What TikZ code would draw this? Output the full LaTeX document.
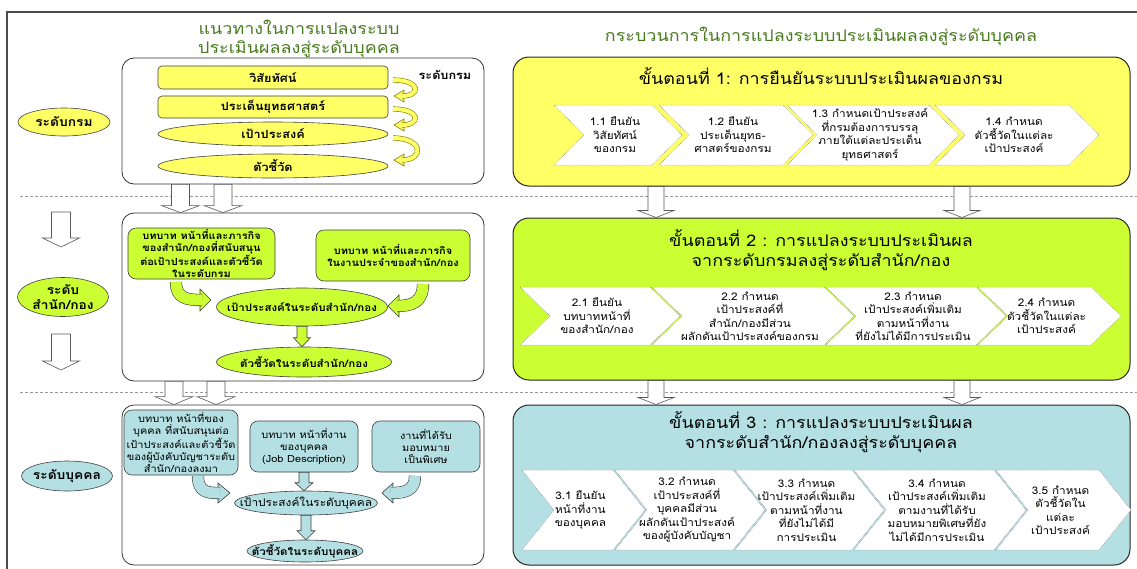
\documentclass[tikz,border=0pt]{standalone}
\usepackage{fontspec}
\setmainfont{Loma}[Script=Thai, FakeStretch=1.12]
\usetikzlibrary{shapes.geometric, calc}

\definecolor{kyellow}{RGB}{255,255,102}
\definecolor{kgreen}{RGB}{204,255,51}
\definecolor{kblue}{RGB}{180,223,227}
\definecolor{ktitle}{RGB}{72,122,30}
\definecolor{kolive}{RGB}{128,128,0}

% block arrow pointing down: style, from, to, half shaft, half head, head length
\newcommand{\blockdown}[6]{%
  \path[#1] let \p1=#2, \p2=#3 in
    (\x1-#4pt,\y1) -- (\x1+#4pt,\y1) -- (\x1+#4pt,\y2+#6pt)
    -- (\x1+#5pt,\y2+#6pt) -- (\x1,\y2) -- (\x1-#5pt,\y2+#6pt)
    -- (\x1-#4pt,\y2+#6pt) -- cycle;}

% bent band arrow: fill, border, band width, band path, head corners
\newcommand{\bentarrow}[5]{%
  \filldraw[fill=#1, draw=#2, line width=0.6pt] #5 -- cycle;
  \draw[draw=#2, double=#1, double distance=#3, line width=0.6pt] #4;}

% chevron of a step: name, left, right, top, bottom, depth, text
\newcommand{\chevbox}[7]{%
  \draw[chevline] (#2,#4) -- (#3,#4) -- ({#3+#6},{(#4+#5)/2}) -- (#3,#5)
    -- (#2,#5) -- ({#2+#6},{(#4+#5)/2}) -- cycle;
  \node[chevtext] (#1) at ({(#2+#3+#6)/2-3},{(#4+#5)/2}) {#7};}

\begin{document}
\begin{tikzpicture}[x=1pt, y=-1pt,
    panel/.style={draw=black!80, fill=white, line width=0.8pt, rounded corners=12pt,
      minimum width=362pt, inner sep=0pt},
    stepbox/.style={draw=black!85, line width=1pt, rounded corners=16pt,
      minimum width=617pt, inner sep=0pt},
    itembox/.style={draw=black!75, line width=0.6pt, rounded corners=#1,
      align=center, inner sep=1pt},
    itembox/.default=4pt,
    ellnode/.style={ellipse, draw=black!75, line width=0.6pt, inner xsep=-30pt,
      inner ysep=-3pt, align=center},
    boldtext/.style={font=\bfseries\fontsize{11.3}{13}\selectfont},
    smalltext/.style={font=\bfseries\fontsize{9.8}{12.3}\selectfont},
    plaintext/.style={font=\fontsize{9.8}{12.2}\selectfont},
    lvtext/.style={font=\bfseries\fontsize{12.3}{15}\selectfont},
    titletext/.style={font=\fontsize{16}{19}\selectfont, text=ktitle, align=center},
    steptitle/.style={font=\fontsize{16}{19.5}\selectfont, align=center},
    chevline/.style={draw=gray, densely dotted, fill=white, line width=0.5pt},
    chevtext/.style={font=\fontsize{10.5}{13.5}\selectfont, align=center, inner sep=0pt},
    bigarrow/.style={fill=white, draw=black!65, line width=0.6pt},
    smallarrow/.style={draw=black!75, line width=0.6pt},
    sepline/.style={densely dashed, draw=gray!80, line width=0.8pt}
]
\useasboundingbox (0,0) rectangle (1137,568);

% frame and level separators
\draw[black!70, line width=1.5pt] (1145,12) -- (7,12) -- (7,575);
\draw[sepline] (20,196) -- (1137,196);
\draw[sepline] (20,392) -- (1137,392);

% titles
\node[titletext] (lefttitle) at (299,39) {แนวทางในการแปลงระบบ\\ประเมินผลลงสู่ระดับบุคคล};
\node[titletext] (righttitle) at (821,36) {กระบวนการในการแปลงระบบประเมินผลลงสู่ระดับบุคคล};

% levels on the left
\node[ellnode, fill=kyellow, minimum width=92pt, minimum height=28pt, lvtext] (dept) at (64,122) {ระดับกรม};
\node[ellnode, fill=kgreen, minimum width=91pt, minimum height=39pt, lvtext] (div) at (63,297) {ระดับ\\สำนัก/กอง};
\node[ellnode, fill=kblue, minimum width=91pt, minimum height=30pt, lvtext] (indiv) at (67,476) {ระดับบุคคล};
\coordinate (da1) at (61,212);
\coordinate (da2) at (61,247);
\coordinate (db1) at (61,334);
\coordinate (db2) at (61,370);
\blockdown{bigarrow}{(da1)}{(da2)}{9.5}{18.5}{9}
\blockdown{bigarrow}{(db1)}{(db2)}{9.5}{18.5}{9}

% level of the department
\node[panel, minimum height=126pt] (lv1) at (303,121) {};
\node[itembox, fill=kyellow, minimum width=230pt, minimum height=23pt, boldtext] (vision) at (273,77.5) {วิสัยทัศน์};
\node[itembox, fill=kyellow, minimum width=230pt, minimum height=22pt, boldtext] (issue) at (273,107) {ประเด็นยุทธศาสตร์};
\node[ellnode, fill=kyellow, minimum width=230pt, minimum height=24pt, boldtext] (goal1) at (273,134) {เป้าประสงค์};
\node[ellnode, fill=kyellow, minimum width=230pt, minimum height=24pt, boldtext] (kpi1) at (273,166) {ตัวชี้วัด};
\node[boldtext] (lvname) at (445,75) {ระดับกรม};
\bentarrow{kyellow}{kolive}{4pt}{(393,80) .. controls (421,80) and (421,96) .. (402,96)}{(404,90) -- (394,96) -- (404,102)}
\bentarrow{kyellow}{kolive}{4pt}{(393,109) .. controls (421,109) and (421,125) .. (402,125)}{(404,119) -- (394,125) -- (404,131)}
\bentarrow{kyellow}{kolive}{4pt}{(393,138) .. controls (424,138) and (424,160) .. (402,160)}{(404,154) -- (394,160) -- (404,166)}

% level of the division
\node[panel, minimum height=168pt] (lv2) at (303,297) {};
\node[itembox=8pt, fill=kgreen, minimum width=147pt, minimum height=51pt, smalltext] (roleA) at (201.5,253.5) {บทบาท หน้าที่และภารกิจ\\ของสำนัก/กองที่สนับสนุน\\ต่อเป้าประสงค์และตัวชี้วัด\\ในระดับกรม};
\node[itembox=8pt, fill=kgreen, minimum width=154pt, minimum height=51pt, smalltext] (roleB) at (393,255.5) {บทบาท หน้าที่และภารกิจ\\ในงานประจำของสำนัก/กอง};
\node[ellnode, fill=kgreen, minimum width=171pt, minimum height=38pt, font=\bfseries\fontsize{10.3}{12}\selectfont] (goal2) at (302,307) {เป้าประสงค์ในระดับสำนัก/กอง};
\node[ellnode, fill=kgreen, minimum width=175pt, minimum height=30pt, font=\bfseries\fontsize{10.3}{12}\selectfont] (kpi2) at (304,362) {ตัวชี้วัดในระดับสำนัก/กอง};
\blockdown{smallarrow, fill=kgreen}{(goal2.south)}{(kpi2.north)}{5}{8.5}{9}
\bentarrow{kgreen}{black!75}{11pt}{(176,282) .. controls (176,298) and (186,300) .. (202,300)}{(200,289) -- (211,300) -- (200,311)}
\bentarrow{kgreen}{black!75}{11pt}{(423,284) .. controls (423,302) and (412,306) .. (397,306)}{(399,295) -- (388,306) -- (399,317)}

% level of the person
\node[panel, minimum height=160pt] (lv3) at (303,485) {};
\node[itembox=8pt, fill=kblue, minimum width=114pt, minimum height=65pt, plaintext] (roleC) at (181,442.5) {บทบาท หน้าที่ของ\\บุคคล ที่สนับสนุนต่อ\\เป้าประสงค์และตัวชี้วัด\\ของผู้บังคับบัญชาระดับ\\สำนัก/กองลงมา};
\node[itembox=8pt, fill=kblue, minimum width=108pt, minimum height=51pt, plaintext] (roleD) at (304,446.5) {บทบาท หน้าที่งาน\\ของบุคคล\\(Job Description)};
\node[itembox=8pt, fill=kblue, minimum width=108pt, minimum height=51pt, plaintext] (roleE) at (426,446.5) {งานที่ได้รับ\\มอบหมาย\\เป็นพิเศษ};
\node[ellnode, fill=kblue, minimum width=143pt, minimum height=24pt, font=\fontsize{10.6}{12}\selectfont] (goal3) at (306,503) {เป้าประสงค์ในระดับบุคคล};
\node[ellnode, fill=kblue, minimum width=116pt, minimum height=22pt, font=\bfseries\fontsize{10.3}{12}\selectfont] (kpi3) at (305,551) {ตัวชี้วัดในระดับบุคคล};
\blockdown{smallarrow, fill=kblue}{(roleD.south)}{(goal3.north)}{5}{9}{8}
\blockdown{smallarrow, fill=kblue}{(goal3.south)}{(kpi3.north)}{5}{9}{9}
\bentarrow{kblue}{black!75}{11pt}{(198,476) .. controls (198,492) and (207,493) .. (220,493)}{(218,483) -- (230,493) -- (218,503)}
\bentarrow{kblue}{black!75}{11pt}{(415,476) .. controls (415,490) and (406,493) .. (391,493)}{(393,483) -- (382,493) -- (393,503)}

% arrows between the left panels
\blockdown{bigarrow}{(180.5,0 |- lv1.south)}{(180.5,0 |- lv2.north)}{9}{19}{7}
\blockdown{bigarrow}{(223,0 |- lv1.south)}{(223,0 |- lv2.north)}{9}{19}{7}
\blockdown{bigarrow}{(174,0 |- lv2.south)}{(174,0 |- lv3.north)}{9}{19}{8}
\blockdown{bigarrow}{(216,0 |- lv2.south)}{(216,0 |- lv3.north)}{9}{19}{8}

% step 1
\node[stepbox, fill=kyellow, minimum height=129pt] (st1) at (821.5,121.5) {};
\node[steptitle] (st1t) at (821,76) {ขั้นตอนที่ 1: การยืนยันระบบประเมินผลของกรม};
\chevbox{c11}{554}{652}{105}{165}{30}{1.1 ยืนยัน\\วิสัยทัศน์\\ของกรม}
\chevbox{c12}{659}{783}{105}{165}{30}{1.2 ยืนยัน\\ประเด็นยุทธ-\\ศาสตร์ของกรม}
\chevbox{c13}{787}{929}{105}{165}{30}{1.3 กำหนดเป้าประสงค์\\ที่กรมต้องการบรรลุ\\ภายใต้แต่ละประเด็น\\ยุทธศาสตร์}
\chevbox{c14}{935}{1069}{105}{165}{30}{1.4 กำหนด\\ตัวชี้วัดในแต่ละ\\เป้าประสงค์}

% step 2
\node[stepbox, fill=kgreen, minimum height=162pt] (st2) at (821.5,299) {};
\node[steptitle] (st2t) at (821,250) {ขั้นตอนที่ 2 : การแปลงระบบประเมินผล\\จากระดับกรมลงสู่ระดับสำนัก/กอง};
\chevbox{c21}{520}{650}{287}{345}{30}{2.1 ยืนยัน\\บทบาทหน้าที่\\ของสำนัก/กอง}
\chevbox{c22}{652}{824}{287}{345}{30}{2.2 กำหนด\\เป้าประสงค์ที่\\สำนัก/กองมีส่วน\\ผลักดันเป้าประสงค์ของกรม}
\chevbox{c23}{826}{976}{287}{345}{30}{2.3 กำหนด\\เป้าประสงค์เพิ่มเติม\\ตามหน้าที่งาน\\ที่ยังไม่ได้มีการประเมิน}
\chevbox{c24}{978}{1091}{287}{345}{30}{2.4 กำหนด\\ตัวชี้วัดในแต่ละ\\เป้าประสงค์}

% step 3
\node[stepbox, fill=kblue, minimum height=160pt] (st3) at (821.5,485) {};
\node[steptitle] (st3t) at (821,432) {ขั้นตอนที่ 3 : การแปลงระบบประเมินผล\\จากระดับสำนัก/กองลงสู่ระดับบุคคล};
\chevbox{c31}{522}{613}{470}{550}{32}{3.1 ยืนยัน\\หน้าที่งาน\\ของบุคคล}
\chevbox{c32}{615}{733}{470}{550}{32}{3.2 กำหนด\\เป้าประสงค์ที่\\บุคคลมีส่วน\\ผลักดันเป้าประสงค์\\ของผู้บังคับบัญชา}
\chevbox{c33}{735}{852}{470}{550}{32}{3.3 กำหนด\\เป้าประสงค์เพิ่มเติม\\ตามหน้าที่งาน\\ที่ยังไม่ได้มี\\การประเมิน}
\chevbox{c34}{854}{994}{470}{550}{32}{3.4 กำหนด\\เป้าประสงค์เพิ่มเติม\\ตามงานที่ได้รับ\\มอบหมายพิเศษที่ยัง\\ไม่ได้มีการประเมิน}
\chevbox{c35}{996}{1099}{470}{550}{32}{3.5 กำหนด\\ตัวชี้วัดใน\\แต่ละ\\เป้าประสงค์}

% arrows between the steps
\blockdown{bigarrow}{(656,0 |- st1.south)}{(656,0 |- st2.north)}{8}{18}{7}
\blockdown{bigarrow}{(962,0 |- st1.south)}{(962,0 |- st2.north)}{8}{18}{7}
\blockdown{bigarrow}{(656,0 |- st2.south)}{(656,0 |- st3.north)}{8}{18}{7}
\blockdown{bigarrow}{(962,0 |- st2.south)}{(962,0 |- st3.north)}{8}{18}{7}

\end{tikzpicture}
\end{document}
